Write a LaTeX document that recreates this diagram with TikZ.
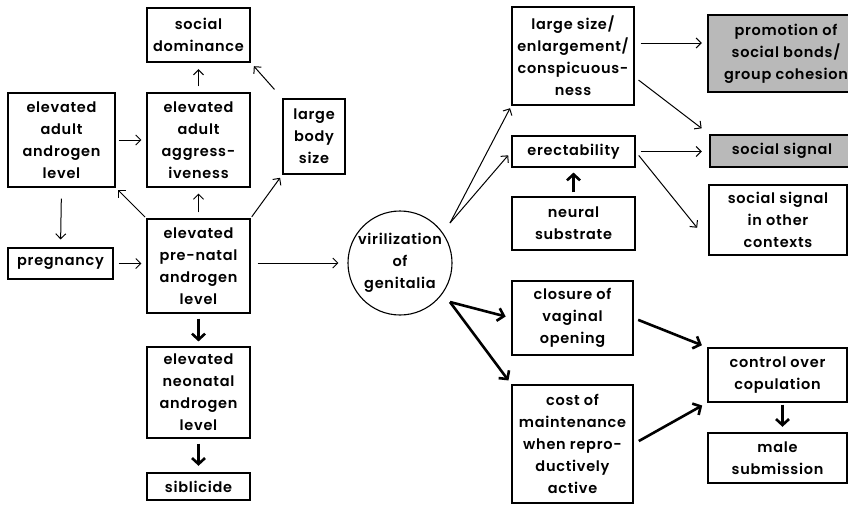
\documentclass[tikz,border=0pt]{standalone}
\usepackage{fontspec}
\setmainfont{Poppins}[UprightFont={* SemiBold}, LetterSpace=5]
\usetikzlibrary{arrows.meta}
\begin{document}
\begin{tikzpicture}[x=1pt,y=-1pt,
  box/.style={draw, line width=1.1pt, inner sep=0pt, align=center, font=\fontsize{14.5}{22}\selectfont},
  tbox/.style={box, line width=2.4pt},
  gbox/.style={tbox, fill=gray!55},
  thinarr/.style={-{Straight Barb[length=5pt,width=10pt]}, line width=1pt},
  thickarr/.style={-{Straight Barb[length=6pt,width=13pt]}, line width=2.6pt}]
\useasboundingbox (0,0) rectangle (848,504);
% left part
\node[tbox, minimum width=103pt, minimum height=54pt] (dom) at (198.5,35) {social\\dominance};
\node[box, minimum width=107pt, minimum height=94pt] (aad) at (61.5,140) {elevated\\adult\\androgen\\level};
\node[box, minimum width=103pt, minimum height=94pt] (agg) at (198.5,140) {elevated\\adult\\aggress-\\iveness};
\node[box, minimum width=62pt, minimum height=75pt] (body) at (314,136.5) {large\\body\\size};
\node[box, minimum width=105pt, minimum height=31pt] (preg) at (60.5,263.5) {pregnancy};
\node[box, minimum width=103pt, minimum height=94pt] (pre) at (198.5,266) {elevated\\pre-natal\\androgen\\level};
\node[box, minimum width=103pt, minimum height=91pt] (neo) at (198.5,392.5) {elevated\\neonatal\\androgen\\level};
\node[tbox, minimum width=103pt, minimum height=27pt] (sib) at (198.5,486.5) {siblicide};
% centre
\node[box, circle, minimum size=104pt] (vir) at (400,263) {virilization\\of\\genitalia};
\coordinate (vu) at (450,223);
\coordinate (vd) at (450,302);
% right part
\node[box, minimum width=122pt, minimum height=98pt] (lsz) at (573,56) {large size/\\enlargement/\\conspicuous-\\ness};
\node[box, minimum width=123pt, minimum height=31pt] (erect) at (573.5,151.5) {erectability};
\node[box, minimum width=123pt, minimum height=53pt] (neural) at (573.5,223.5) {neural\\substrate};
\node[box, minimum width=121pt, minimum height=74pt] (clos) at (572.5,318) {closure of\\vaginal\\opening};
\node[box, minimum width=121pt, minimum height=118pt] (cost) at (572.5,444) {cost of\\maintenance\\when repro-\\ductively\\active};
\node[gbox, minimum width=156pt, minimum height=77pt] (prom) at (786,53.5) {promotion of\\social bonds/\\group cohesion};
\node[gbox, minimum width=144pt, minimum height=32pt] (ssig) at (782,151) {social signal};
\node[tbox, minimum width=138pt, minimum height=70pt] (sother) at (778,220) {social signal\\in other\\contexts};
\node[box, minimum width=139pt, minimum height=54pt] (ctrl) at (777.5,375) {control over\\copulation};
\node[tbox, minimum width=139pt, minimum height=50pt] (male) at (777.5,458) {male\\submission};
% thin connectors
\draw[thinarr, shorten <=3pt, shorten >=5pt] (aad.east) -- (agg.west);
\draw[thinarr, shorten <=6pt, shorten >=6pt] (agg.north) -- (dom.south);
\draw[thinarr, shorten <=12pt, shorten >=4pt] (body.north west) -- (dom.south east);
\draw[thinarr, shorten <=2pt, shorten >=4pt] (pre.north west) -- (aad.south east);
\draw[thinarr, shorten <=6pt, shorten >=6pt] (pre.north) -- (agg.south);
\draw[thinarr, shorten <=2pt, shorten >=4pt] (pre.north east) -- (body.south west);
\draw[thinarr, shorten <=11pt, shorten >=8pt] (aad.south) -- (preg.north);
\draw[thinarr, shorten <=5pt, shorten >=5pt] (preg.east) -- (pre.west |- preg.east);
\draw[thinarr, shorten <=7pt, shorten >=9pt] (pre.east |- vir.west) -- (vir.west);
\draw[thinarr, shorten >=3pt] (vu) -- (lsz.south west);
\draw[thinarr, shorten >=5pt] (vu) -- (erect.west);
\draw[thinarr, shorten <=6pt, shorten >=5pt] ([yshift=13pt]lsz.east) -- ([yshift=10.5pt]prom.west);
\draw[thinarr, shorten <=5pt, shorten >=9pt] ([yshift=-21pt]lsz.east) -- (ssig.north west);
\draw[thinarr, shorten <=5pt, shorten >=7pt] (erect.east) -- (erect.east -| ssig.west);
\draw[thinarr, shorten <=5pt, shorten >=17pt] (erect.east) -- ([yshift=-21pt]sother.west);
% thick connectors
\draw[thickarr, shorten <=5pt, shorten >=5pt] (pre.south) -- (neo.north);
\draw[thickarr, shorten <=5pt, shorten >=6pt] (neo.south) -- (sib.north);
\draw[thickarr, shorten <=4pt, shorten >=5pt] (neural.north) -- (erect.south);
\draw[thickarr, shorten >=6pt] (vd) -- (clos.west);
\draw[thickarr, shorten >=5pt] (vd) -- (cost.north west);
\draw[thickarr, shorten <=5pt, shorten >=6pt] (clos.east) -- (ctrl.north west);
\draw[thickarr, shorten <=6pt, shorten >=6pt] (cost.east) -- (ctrl.south west);
\draw[thickarr, shorten <=2pt, shorten >=5pt] ([xshift=5pt]ctrl.south) -- ([xshift=5pt]male.north);
\end{tikzpicture}
\end{document}
